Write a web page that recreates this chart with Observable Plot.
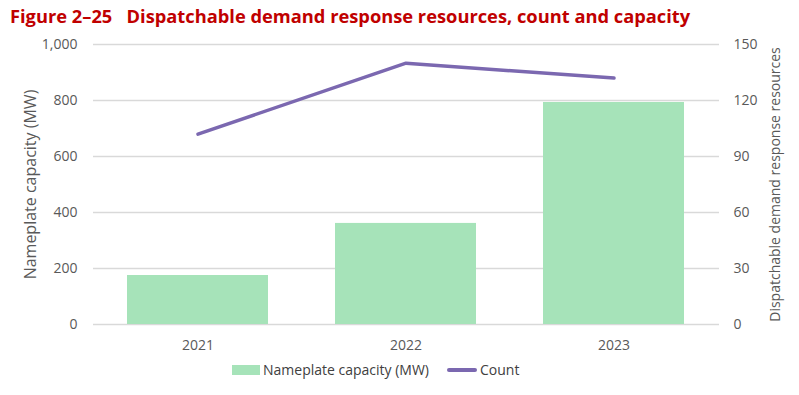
<!DOCTYPE html>
<html><head><meta charset="utf-8">
<script src="https://cdn.jsdelivr.net/npm/d3@7"></script>
<script src="https://cdn.jsdelivr.net/npm/@observablehq/plot@0.6"></script>
<style>
body{margin:0;background:#fff;font-family:"Open Sans",sans-serif;}
#title{height:30px;padding-left:10px;font-size:18.3px;font-weight:bold;color:#c00000;line-height:32px;white-space:nowrap;}
#legend{display:flex;justify-content:flex-start;padding-left:232px;align-items:center;font-size:14px;color:#404040;margin-top:-8px;}
.sw{display:inline-block;margin-right:3px;}
</style></head><body>
<div id="title">Figure 2–25&nbsp;&nbsp;&nbsp;Dispatchable demand response resources, count and capacity</div>
<div id="chart"></div>
<div id="legend"><span class="sw" style="width:28px;height:10px;background:#a6e3b9"></span><span>Nameplate capacity (MW)</span><span class="sw" style="width:30px;height:4px;background:#7b68b0;margin-left:18px;border-radius:2px"></span><span>Count</span></div>
<script>
const years = ["2021","2022","2023"];
const capacity = [175, 361, 793];
const count = [102, 140, 132];
const leftTicks = [0,200,400,600,800,1000];
const rightTicks = [0,30,60,90,120,150];
const ratio = 1000/150;

const bars = years.map((y,i)=>({year:y, cap:capacity[i]}));
const pts = years.map((y,i)=>({year:y, cnt:count[i]}));

const chart = Plot.plot({
  width:799, height:338,
  marginTop:14, marginLeft:93, marginRight:80, marginBottom:44,
  style:{fontFamily:"Open Sans, sans-serif", fontSize:"14px", color:"#595959"},
  x:{domain:years, paddingInner:0.32, paddingOuter:0.16, label:null},
  y:{domain:[0,1000], label:null},
  marks:[
    Plot.gridY(leftTicks,{stroke:"#d9d9d9", strokeOpacity:1, strokeWidth:1.5}),
    Plot.barY(bars,{x:"year", y:"cap", fill:"#a6e3b9"}),
    Plot.line(pts,{x:"year", y:d=>d.cnt*ratio, stroke:"#7b68b0", strokeWidth:3.5, curve:"linear"}),
    Plot.axisX({tickSize:0, tickPadding:16, fontSize:14, label:null}),
    Plot.axisY(leftTicks,{anchor:"left", tickSize:0, tickPadding:16, tickFormat:d3.format(","), label:null, fontSize:14}),
    Plot.axisY(rightTicks.map(d=>d*ratio),{anchor:"right", tickSize:0, tickPadding:14, tickFormat:d=>Math.round(d/ratio), label:null, fontSize:14}),
    Plot.text(["Nameplate capacity (MW)"],{frameAnchor:"left", textAnchor:"middle", dx:-63, rotate:-90, fontSize:16, fill:"#595959"}),
    Plot.text(["Dispatchable demand response resources"],{frameAnchor:"right", textAnchor:"middle", dx:56, rotate:-90, fontSize:14, fill:"#595959"})
  ]
});
document.getElementById("chart").appendChild(chart);
</script>
</body></html>
